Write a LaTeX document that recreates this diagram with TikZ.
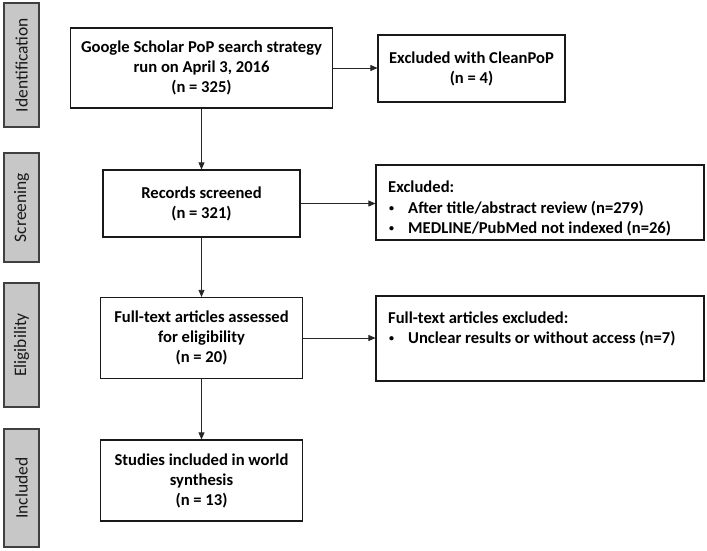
\documentclass[tikz,border=0pt]{standalone}
\usepackage{fontspec}
\setmainfont{Carlito}
\usetikzlibrary{arrows.meta}
\newcommand{\mybul}{\makebox[20pt][l]{\hspace{1pt}\raisebox{1.8pt}{\fontsize{10}{10}\selectfont•}}}
\begin{document}
\begin{tikzpicture}[x=1pt,y=-1pt,
  box/.style={draw=black!90,line width=1.1pt,fill=white,inner sep=0pt,align=center,
    font=\fontsize{16.6}{20}\selectfont\bfseries},
  sidebar/.style={draw=black!75,line width=1.8pt,fill=black!22,inner sep=0pt,minimum width=35pt},
  sidetext/.style={rotate=90,font=\fontsize{17.5}{20}\selectfont,text=black!90},
  ltext/.style={anchor=base west,inner sep=0pt,font=\fontsize{16.6}{20}\selectfont\bfseries},
  arr/.style={draw=black!85,line width=0.7pt,-{Triangle[length=7pt,width=6pt]}}]
\useasboundingbox (0,0) rectangle (707,550);
% side bars
\node[sidebar,minimum height=124pt] (s1) at (21.5,65) {};
\node[sidetext] (s1t) at (s1.center) {Identification};
\node[sidebar,minimum height=109pt] (s2) at (21.5,207.5) {};
\node[sidetext] (s2t) at (s2.center) {Screening};
\node[sidebar,minimum height=124pt] (s3) at (21.5,345) {};
\node[sidetext] (s3t) at (s3.center) {Eligibility};
\node[sidebar,minimum height=118pt] (s4) at (21.5,488) {};
\node[sidetext] (s4t) at (s4.center) {Included};
% main boxes
\node[box,minimum width=262pt,minimum height=80pt] (b1) at (201.5,68) {Google Scholar PoP search strategy\\run on April 3, 2016\\(n = 325)};
\node[box,minimum width=197pt,minimum height=67pt] (b2) at (201.5,203.5) {Records screened\\(n = 321)};
\node[box,minimum width=202pt,minimum height=81pt] (b3) at (201.5,338) {Full-text articles assessed\\for eligibility\\(n = 20)};
\node[box,minimum width=202pt,minimum height=81pt] (b4) at (201.5,480.5) {Studies included in world\\synthesis\\(n = 13)};
% exclusion boxes
\node[box,minimum width=187pt,minimum height=67pt] (e1) at (471.5,68.5) {Excluded with CleanPoP\\(n = 4)};
\node[box,minimum width=328pt,minimum height=75pt] (e2) at (540,202.5) {};
\node[box,minimum width=328pt,minimum height=85pt] (e3) at (540,338.5) {};
\node[ltext] (e2a) at (388,192) {Excluded:};
\node[ltext] (e2b) at (388,213) {\mybul After title/abstract review (n=279)};
\node[ltext] (e2c) at (388,233) {\mybul MEDLINE/PubMed not indexed (n=26)};
\node[ltext] (e3a) at (388,323) {Full-text articles excluded:};
\node[ltext] (e3b) at (388,343) {\mybul Unclear results or without access (n=7)};
% connectors
\draw[arr] (b1.south) -- (b2.north);
\draw[arr] (b2.south) -- (b3.north);
\draw[arr] (b3.south) -- (b4.north);
\draw[arr] (b1.east) -- (b1.east -| e1.west);
\draw[arr] (b2.east) -- (b2.east -| e2.west);
\draw[arr] (b3.east) -- (b3.east -| e3.west);
\end{tikzpicture}
\end{document}
